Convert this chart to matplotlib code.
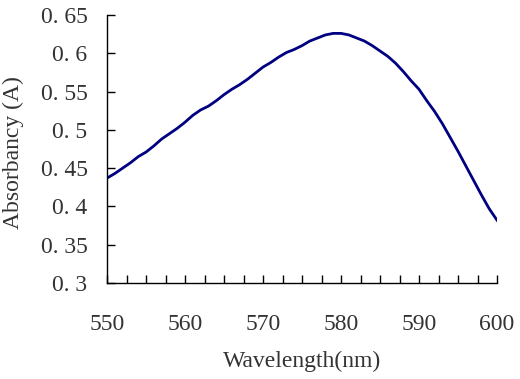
import numpy as np
import matplotlib.pyplot as plt
from matplotlib.ticker import MultipleLocator

wavelength = np.arange(550, 601)
absorbancy = [0.437, 0.443, 0.450, 0.457, 0.465, 0.471, 0.479, 0.488, 0.495, 0.502,
              0.510, 0.519, 0.526, 0.531, 0.538, 0.546, 0.553, 0.559, 0.566, 0.574,
              0.582, 0.588, 0.595, 0.601, 0.605, 0.610, 0.616, 0.620, 0.624, 0.626,
              0.626, 0.624, 0.620, 0.616, 0.610, 0.603, 0.596, 0.587, 0.576, 0.564,
              0.553, 0.538, 0.524, 0.508, 0.490, 0.472, 0.453, 0.434, 0.415, 0.397,
              0.382]
x_ticks = [550, 560, 570, 580, 590, 600]
y_ticks = [0.3, 0.35, 0.4, 0.45, 0.5, 0.55, 0.6, 0.65]
y_labels = ["0. 3", "0. 35", "0. 4", "0. 45", "0. 5", "0. 55", "0. 6", "0. 65"]

plt.rcParams['font.family'] = 'Liberation Serif'
plt.rcParams['font.size'] = 17

fig = plt.figure(figsize=(5.2, 3.79), dpi=100)
ax = fig.add_axes([0.2058, 0.2533, 0.75, 0.7071])

ax.plot(wavelength, absorbancy, color='#000080', linewidth=2.0)

ax.set_xlim(550, 600)
ax.set_ylim(0.3, 0.65)
ax.set_xticks(x_ticks)
ax.xaxis.set_minor_locator(MultipleLocator(2.5))
ax.set_yticks(y_ticks)
ax.set_yticklabels(y_labels)

for s in ['top', 'right']:
    ax.spines[s].set_visible(False)
for s in ['left', 'bottom']:
    ax.spines[s].set_linewidth(1.0)

ax.tick_params(axis='y', direction='in', length=6, width=1, pad=14, colors='black')
ax.tick_params(axis='x', which='both', direction='in', length=6, width=1, pad=22)
ax.tick_params(axis='both', labelcolor='#333333')

ax.set_xlabel('Wavelength(nm)', labelpad=12, color='#333333')
ax.set_ylabel('Absorbancy (A)', color='#333333')
ax.yaxis.set_label_coords(-0.213, 0.485)

fig.savefig('out.png', dpi=100)
